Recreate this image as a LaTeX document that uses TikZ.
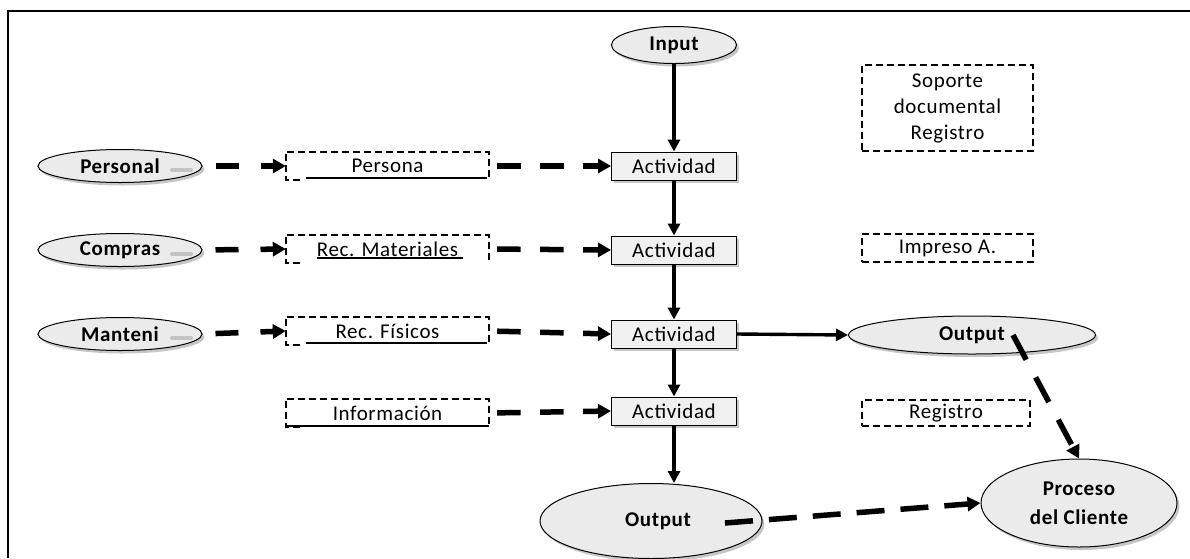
\documentclass[tikz,border=0pt]{standalone}
\usepackage{fontspec}
\setmainfont{Carlito}[LetterSpace=3]
\usetikzlibrary{shapes.geometric,arrows.meta,shadows}
\begin{document}
\begin{tikzpicture}[x=1pt,y=-1pt,
  every node/.style={font=\fontsize{21}{26}\selectfont},
  shd/.style={drop shadow={shadow xshift=2.5pt,shadow yshift=-3pt,fill=black,opacity=0.22}},
  ell/.style={ellipse,draw,line width=1pt,fill=gray!16,inner sep=0pt,shd,
    font=\fontsize{21}{26}\selectfont\bfseries},
  act/.style={rectangle,draw,line width=1pt,fill=gray!12,minimum width=125pt,minimum height=28pt,inner sep=0pt,shd},
  dbox/.style={rectangle,minimum width=203pt,minimum height=28pt,inner sep=0pt},
  rbox/.style={rectangle,draw,line width=2.2pt,dash pattern=on 7pt off 4pt,minimum width=171pt,inner sep=0pt,align=center},
  dbord/.style={line width=2.2pt,dash pattern=on 7pt off 4pt},
  uline/.style={line width=2pt},
  solidarrow/.style={line width=3.4pt,-{Triangle[length=12pt,width=12pt]}},
  darrowA/.style={line width=5.5pt,dash pattern=on 23pt off 22pt,dash phase=32pt,-{Triangle[length=13pt,width=14pt]}},
  darrowB/.style={line width=5.5pt,dash pattern=on 23.5pt off 19.5pt,dash phase=35pt,-{Triangle[length=13pt,width=14pt]}},
  darrowC/.style={line width=5.5pt,dash pattern=on 28pt off 16pt,-{Triangle[length=13pt,width=14pt]}},
  darrowD/.style={line width=5.5pt,dash pattern=on 28pt off 20pt,-{Triangle[length=13pt,width=14pt]}},
  smudge/.style={line width=4pt,gray!55,opacity=0.8,line cap=round}
]
\useasboundingbox (0,0) rectangle (1190,558);
% frame
\draw[line width=2pt] (8,558) -- (8,11) -- (1190,11);

% main column
\node[ell,minimum width=125pt,minimum height=37pt] (in) at (674,45) {Input};
\node[act] (a1) at (674,166) {Actividad};
\node[act] (a2) at (674,250) {Actividad};
\node[act] (a3) at (674,334) {Actividad};
\node[act] (a4) at (674,411) {Actividad};

% left ellipses
\node[ell,minimum width=164pt,minimum height=33pt] (pe) at (120,166) {Personal};
\node[ell,minimum width=164pt,minimum height=33pt] (co) at (120,250) {Compras};
\node[ell,minimum width=164pt,minimum height=33pt] (ma) at (120,334) {Manteni};
\draw[smudge] (172,170) -- (191,170);
\draw[smudge] (172,254) -- (191,254);
\draw[smudge] (172,338) -- (191,338);

% middle dashed boxes
\node[dbox] (pb) at (387.5,166) {Persona};
\node[dbox] (rm) at (387.5,249) {Rec. Materiales};
\node[dbox] (rf) at (387.5,331) {Rec. Físicos};
\node[dbox] (inf) at (387.5,413) {Información};
\foreach \b in {pb,rm,rf,inf}{
  \draw[dbord] ([xshift=14pt]\b.south west) -- (\b.south west) -- (\b.north west) -- (\b.north east) -- (\b.south east);
}
\draw[uline] ([xshift=20pt,yshift=2pt]pb.south west) -- ([xshift=-2pt,yshift=2pt]pb.south east);
\draw[uline] ([xshift=31pt,yshift=5pt]rm.south west) -- ([xshift=-26pt,yshift=5pt]rm.south east);
\draw[uline] ([xshift=20pt,yshift=2pt]rf.south west) -- ([xshift=-2pt,yshift=2pt]rf.south east);
\draw[uline] ([yshift=1pt]inf.south west) -- ([yshift=1pt]inf.south east);

% right boxes
\node[rbox,minimum height=86pt,font=\fontsize{21}{26}\selectfont] (sd) at (947.5,108) {Soporte\\documental\\Registro};
\node[rbox,minimum height=28pt] (im) at (947.5,248) {Impreso A.};
\node[rbox,minimum height=26pt,minimum width=168pt] (rg) at (946,413) {Registro};

% outputs
\node[ell,minimum width=247pt,minimum height=38pt] (o1) at (972,335) {Output};
\node[ell,minimum width=222pt,minimum height=75pt] (o2) at (651,521) {\hspace*{14pt}Output};
\node[ell,minimum width=196pt,minimum height=88pt,align=center,font=\fontsize{21}{29}\selectfont\bfseries] (pc) at (1079,503) {Proceso\\del Cliente};

% solid connectors
\draw[solidarrow] (in.south) -- (a1.north);
\draw[solidarrow] (a1.south) -- (a2.north);
\draw[solidarrow] (a2.south) -- (a3.north);
\draw[solidarrow] (a3.south) -- (a4.north);
\draw[solidarrow] (a4.south) -- (a4.south |- o2.north);
\draw[solidarrow] (a3.east) -- (o1.west);

% dashed connectors
\draw[darrowA] (pe.east) -- (pb.west);
\draw[darrowA] (co.east) -- (rm.west);
\draw[darrowA] (ma.east) -- (rf.west);
\draw[darrowB] (pb.east) -- (a1.west);
\draw[darrowB] (rm.east) -- (a2.west);
\draw[darrowB] (rf.east) -- (a3.west);
\draw[darrowB] (inf.east) -- (a4.west);

\coordinate (c1) at (725,523);
\coordinate (c2) at (1013,335);
\draw[darrowC] (c1) -- (pc.west);
\draw[darrowD] (c2) -- (pc.north);
\end{tikzpicture}
\end{document}
